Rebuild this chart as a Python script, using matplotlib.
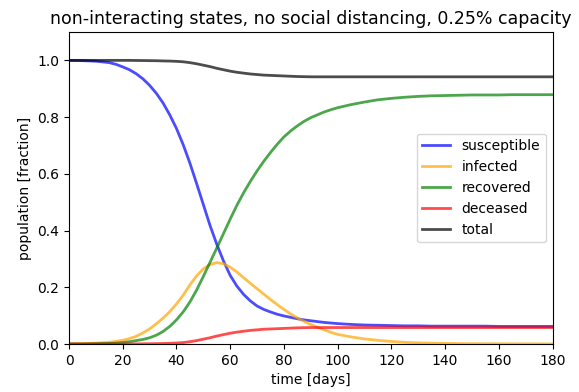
import matplotlib
matplotlib.use('Agg')
import matplotlib.pyplot as plt

# values (finer steps where they bend)
days = [0, 5, 10,
        15, 17.5, 20, 22.5, 25, 27.5, 30, 32.5, 35, 37.5, 40, 42.5, 45, 47.5,
        50, 52.5, 55, 57.5, 60, 62.5, 65, 67.5, 70, 72.5, 75, 77.5, 80, 82.5,
        85, 87.5, 90, 92.5, 95, 97.5, 100,
        105, 110, 115, 120, 125, 130, 135, 140, 145, 150, 155, 160, 165, 170, 175, 180]

susceptible = [1.000, 0.999, 0.997,
               0.992, 0.986, 0.977, 0.967, 0.953, 0.935, 0.912, 0.884, 0.850, 0.808, 0.760, 0.703, 0.638, 0.566,
               0.492, 0.418, 0.352, 0.293, 0.242, 0.204, 0.175, 0.152, 0.134, 0.122, 0.113, 0.105, 0.099, 0.094,
               0.089, 0.085, 0.082, 0.079, 0.076, 0.074, 0.072,
               0.069, 0.067, 0.066, 0.065, 0.064, 0.064, 0.063, 0.063, 0.063, 0.063, 0.063, 0.062, 0.062, 0.062, 0.062, 0.062]
infected = [0.001, 0.001, 0.003,
            0.006, 0.009, 0.013, 0.019, 0.027, 0.039, 0.053, 0.071, 0.091, 0.114, 0.141, 0.172, 0.208, 0.240,
            0.265, 0.280, 0.287, 0.283, 0.271, 0.254, 0.234, 0.214, 0.195, 0.176, 0.157, 0.139, 0.122, 0.106,
            0.092, 0.080, 0.069, 0.059, 0.050, 0.041, 0.034,
            0.025, 0.018, 0.013, 0.009, 0.006, 0.004, 0.003, 0.002, 0.0015, 0.001, 0.001, 0.0008, 0.0006, 0.0005, 0.0004, 0.0003]
recovered = [0.000, 0.000, 0.001,
             0.002, 0.003, 0.005, 0.008, 0.012, 0.016, 0.022, 0.031, 0.044, 0.062, 0.085, 0.113, 0.148, 0.190,
             0.238, 0.288, 0.338, 0.389, 0.440, 0.489, 0.533, 0.573, 0.610, 0.644, 0.675, 0.704, 0.730, 0.751,
             0.769, 0.785, 0.798, 0.808, 0.818, 0.826, 0.833,
             0.844, 0.853, 0.861, 0.866, 0.870, 0.873, 0.875, 0.876, 0.877, 0.878, 0.878, 0.878, 0.879, 0.879, 0.879, 0.879]
deceased = [0.0, 0.0, 0.0,
            0.0, 0.0, 0.0, 0.0002, 0.0004, 0.0006, 0.001, 0.0013, 0.0018, 0.0025, 0.0035, 0.005, 0.008, 0.012,
            0.017, 0.022, 0.028, 0.033, 0.038, 0.042, 0.045, 0.048, 0.050, 0.052, 0.053, 0.054, 0.055, 0.056,
            0.057, 0.0575, 0.058, 0.058, 0.058, 0.058, 0.058,
            0.058, 0.058, 0.058, 0.058, 0.058, 0.058, 0.058, 0.058, 0.058, 0.058, 0.058, 0.058, 0.058, 0.058, 0.058, 0.058]
total = [1.0, 1.0, 1.0,
         1.0, 1.0, 1.0, 1.0, 0.9996, 0.9994, 0.999, 0.9987, 0.998, 0.9975, 0.9965, 0.995, 0.992, 0.988,
         0.983, 0.978, 0.972, 0.967, 0.962, 0.958, 0.955, 0.952, 0.950, 0.948, 0.947, 0.946, 0.945, 0.944,
         0.943, 0.9425, 0.942, 0.942, 0.942, 0.942, 0.942,
         0.942, 0.942, 0.942, 0.942, 0.942, 0.942, 0.942, 0.942, 0.942, 0.942, 0.942, 0.942, 0.942, 0.942, 0.942, 0.942]

fig = plt.figure(figsize=(5.79, 3.92), dpi=100)
ax = fig.add_axes([69 / 579, 48 / 392, 483.5 / 579, 312 / 392])

ax.plot(days, susceptible, 'b', alpha=0.7, lw=2, label='susceptible')
ax.plot(days, infected, color='orange', alpha=0.7, lw=2, label='infected')
ax.plot(days, recovered, 'g', alpha=0.7, lw=2, label='recovered')
ax.plot(days, deceased, 'r', alpha=0.7, lw=2, label='deceased')
ax.plot(days, total, 'k', alpha=0.7, lw=2, label='total')

ax.set_xlim(0, 180)
ax.set_ylim(0, 1.1)
ax.set_xticks(range(0, 181, 20))
ax.set_yticks([0.0, 0.2, 0.4, 0.6, 0.8, 1.0])
ax.set_xlabel('time [days]')
ax.set_ylabel('population [fraction]')
ax.set_title('non-interacting states, no social distancing, 0.25% capacity', fontsize=12.5)
ax.legend(loc='center right')

fig.savefig('out.png', dpi=100)
